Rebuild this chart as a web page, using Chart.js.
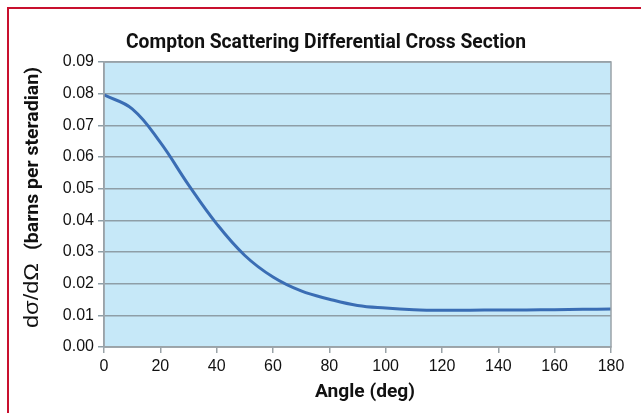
<!DOCTYPE html>
<html>
<head>
<meta charset="utf-8">
<script src="https://cdn.jsdelivr.net/npm/chart.js@4.4.0/dist/chart.umd.min.js"></script>
<style>
  html, body { margin: 0; padding: 0; background: #fff; }
  #wrap { position: relative; width: 641px; height: 413px; overflow: hidden; }
  #frame { position: absolute; left: 7px; top: 7px; width: 700px; height: 500px;
           border-top: 2px solid #c8102e; border-left: 2px solid #c8102e; }
  canvas { position: absolute; left: 0; top: 0; }
</style>
</head>
<body>
<div id="wrap">
  <div id="frame"></div>
  <canvas id="chart" width="641" height="413"></canvas>
</div>
<script>
(
    () => {
        // values
        const angles = [0, 10, 20, 30, 40, 50, 60, 70, 80, 90, 100, 110, 120, 130, 140, 150, 160, 170, 180];
        const sigma = [0.0796, 0.0752, 0.0646, 0.0512, 0.0389, 0.0289, 0.0221, 0.0177, 0.0151, 0.0131, 0.0123, 0.0118, 0.0116, 0.0116, 0.0117, 0.0117, 0.0118, 0.0119, 0.0120];
        const xTicks = [0, 20, 40, 60, 80, 100, 120, 140, 160, 180];
        const yTicks = [0, 0.01, 0.02, 0.03, 0.04, 0.05, 0.06, 0.07, 0.08, 0.09];

        const chartTitle = 'Compton Scattering Differential Cross Section';
        const xTitle = 'Angle (deg)';
        const yTitleSymbol = 'dσ/dΩ';
        const yTitleUnit = '(barns per steradian)';

        const bold = "bold 19px Roboto, 'Liberation Sans', sans-serif";
        const plain = "'Liberation Sans', Arial, sans-serif";

        // condensed look: squeeze the text to the width it has in the reference
        function squeezeText(ctx, text, x, y, font, width, align) {
            ctx.save();
            ctx.font = font;
            const w = ctx.measureText(text).width;
            const sx = width / w;
            const left = align === 'center' ? x - width / 2 : x;
            ctx.translate(left, y);
            ctx.scale(sx, 1);
            ctx.textAlign = 'left';
            ctx.textBaseline = 'alphabetic';
            ctx.fillText(text, 0, 0);
            ctx.restore();
        }

        // light blue plot area plus grey frame
        const plotBg = {
            id: 'plotBg',
            beforeDraw(chart) {
                const { ctx, chartArea: a } = chart;
                ctx.save();
                ctx.fillStyle = '#c6e8f8';
                ctx.fillRect(a.left, a.top, a.right - a.left, a.bottom - a.top);
                ctx.restore();
            },
            afterDatasetsDraw(chart) {
                const { ctx, chartArea: a } = chart;
                ctx.save();
                ctx.strokeStyle = '#9aa3a8';
                ctx.lineWidth = 1.5;
                ctx.strokeRect(a.left, a.top, a.right - a.left, a.bottom - a.top);
                ctx.restore();
            }
        };

        // titles drawn by hand so the narrow bold face can be matched
        const titles = {
            id: 'titles',
            afterDraw(chart) {
                const { ctx } = chart;
                ctx.save();
                ctx.fillStyle = '#111';
                squeezeText(ctx, chartTitle, 326, 48, 'bold 19.5px Roboto, sans-serif', 400, 'center');
                squeezeText(ctx, xTitle, 365, 397, 'bold 19px Roboto, sans-serif', 100, 'center');
                ctx.translate(38, 328);
                ctx.rotate(-Math.PI / 2);
                squeezeText(ctx, yTitleSymbol, 0, 0, '20px ' + plain, 65, 'left');
                squeezeText(ctx, yTitleUnit, 78, 0, bold, 183, 'left');
                ctx.restore();
            }
        };

        const points = angles.map((a, i) => ({ x: a, y: sigma[i] }));

        new Chart(document.getElementById('chart'), {
            type: 'line',
            data: {
                datasets: [{
                    data: points,
                    borderColor: '#3a6db4',
                    borderWidth: 3,
                    pointRadius: 0,
                    tension: 0.4,
                    fill: false
                }]
            },
            options: {
                responsive: false,
                animation: false,
                layout: { padding: { top: 62, right: 30, bottom: 0, left: 0 } },
                plugins: {
                    legend: { display: false },
                    tooltip: { enabled: false },
                    title: { display: false }
                },
                scales: {
                    x: {
                        type: 'linear',
                        min: 0,
                        max: 180,
                        afterBuildTicks: s => { s.ticks = xTicks.map(v => ({ value: v })); },
                        afterFit: s => { s.height = 66; },
                        ticks: { color: '#111', font: { family: plain, size: 16 }, padding: 4, maxRotation: 0 },
                        grid: { drawOnChartArea: false, drawTicks: true, tickLength: 6, color: '#9aa3a8', lineWidth: 1.5 },
                        border: { color: '#9aa3a8', width: 1.5 }
                    },
                    y: {
                        min: 0,
                        max: 0.09,
                        afterBuildTicks: s => { s.ticks = yTicks.map(v => ({ value: v })); },
                        afterFit: s => { s.width = 104; },
                        ticks: { color: '#111', font: { family: plain, size: 16 }, padding: 4, callback: v => v.toFixed(2) },
                        grid: { color: '#8e9ea7', lineWidth: 1.5, tickLength: 6 },
                        border: { color: '#9aa3a8', width: 1.5 }
                    }
                }
            },
            plugins: [plotBg, titles]
        });
    }
)();
</script>
</body>
</html>
